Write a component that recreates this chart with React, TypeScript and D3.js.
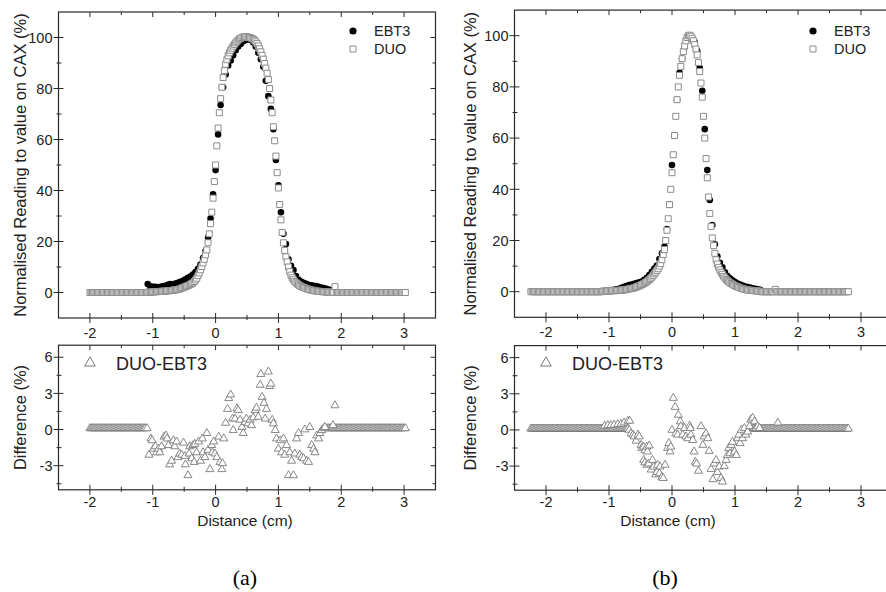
import React from "react";
import * as d3 from "d3";

// ---- data ----
const xMajor = [-2, -1, 0, 1, 2, 3];
const xMinor = [-1.5, -0.5, 0.5, 1.5, 2.5];
const topMajor = [0, 20, 40, 60, 80, 100];
const topMinor = [10, 30, 50, 70, 90];
const botMajor = [-3, 0, 3, 6];
const botMinor = [-4.5, -1.5, 1.5, 4.5];

const duoStep = 0.02;
const ebtStep = 0.04;

// (a) DUO profile, x from -2.00 to 3.02
const duoAStart = -2.0;
const duoAValues = [
  0, 0, 0, 0, 0, 0, 0, 0, 0, 0, 0, 0, 0, 0, 0, 0, 0, 0, 0, 0, 0, 0, 0, 0, 0,
  0, 0, 0, 0, 0, 0, 0, 0, 0, 0, 0, 0, 0, 0, 0, 0, 0, 0, 0, 0,
  0, 0.1, 0.1, 0.2, 0.2, 0.2, 0.3, 0.3, 0.3, 0.4,
  0.4, 0.4, 0.5, 0.5, 0.5, 0.6, 0.6, 0.7, 0.7, 0.8,
  0.8, 0.9, 1.0, 1.0, 1.1, 1.2, 1.3, 1.5, 1.7, 1.9,
  2.1, 2.3, 2.5, 2.7, 2.9, 3.2, 3.5, 3.8, 4.3, 4.9,
  5.6, 6.6, 7.7, 8.9, 10.2, 11.6, 13.0, 14.8, 16.7, 19.5,
  23.0, 27.0, 31.5, 37.0, 43.5, 50.0, 57.5, 64.5, 70.5, 76.0,
  80.5, 84.3, 87.0, 89.5, 91.3, 92.8, 94.0, 95.0, 95.8, 96.6,
  97.3, 97.9, 98.5, 99.0, 99.4, 99.7, 100.0, 100.2, 100.3, 100.3,
  100.2, 100.1, 100.0, 99.8, 99.6, 99.3, 98.9, 98.3, 97.6, 96.7,
  95.6, 94.4, 93.0, 91.5, 89.8, 88.0, 86.0, 83.5, 80.0, 75.5,
  70.5, 65.0, 59.5, 53.5, 47.0, 41.0, 34.5, 28.5, 23.5, 19.5,
  16.5, 14.0, 12.0, 10.0, 8.2, 6.8, 5.8, 5.0, 4.3, 3.8,
  3.4, 3.0, 2.7, 2.4, 2.2, 2.0, 1.8, 1.6, 1.4, 1.3,
  1.1, 1.0, 0.9, 0.8, 0.7, 0.6, 0.5, 0.5, 0.4, 0.4,
  0.3, 0.3, 0.3, 0.2, 0.2, 0.2, 0.1, 0.1, 0.1,
  0.1, 2.3,
  0, 0, 0, 0, 0, 0, 0, 0, 0, 0, 0, 0, 0, 0, 0, 0, 0, 0, 0, 0, 0, 0, 0, 0, 0,
  0, 0, 0, 0, 0, 0, 0, 0, 0, 0, 0, 0, 0, 0, 0, 0, 0, 0, 0, 0, 0, 0, 0, 0, 0,
  0, 0, 0, 0, 0, 0,
];

// (a) EBT3 profile, x from -1.08 to 1.88
const ebtAStart = -1.08;
const ebtAValues = [
  3.3, 2.4, 2.2, 2.2, 2.0, 2.2, 2.4, 2.6, 3.0, 3.3,
  3.2, 3.5, 3.8, 4.2, 4.6, 5.2, 5.8, 6.3, 7.0, 8.0,
  9.3, 11.0, 13.5, 16.3, 21.5, 29.0, 38.5, 48.0, 62.0, 73.5,
  80.5, 85.5, 89.0, 91.0, 93.0, 95.0, 96.5, 97.5, 98.5, 99.0,
  99.3, 99.0, 98.0, 96.5, 94.0, 91.5, 88.5, 83.0, 77.0, 72.0,
  64.0, 52.0, 42.0, 31.5, 23.0, 19.0, 13.0, 10.5, 8.8, 6.5,
  5.0, 4.3, 3.8, 3.4, 3.0, 2.8, 2.6, 2.5, 2.2, 1.9,
  1.7, 1.5, 1.2, 1.0, 0.8,
];

// (b) DUO profile, x from -2.24 to 2.80
const duoBStart = -2.24;
const duoBValues = [
  0, 0, 0, 0, 0, 0, 0, 0, 0, 0, 0, 0, 0, 0, 0, 0, 0, 0, 0, 0, 0, 0, 0, 0, 0,
  0, 0, 0, 0, 0, 0, 0, 0, 0, 0, 0, 0, 0, 0, 0, 0, 0, 0, 0, 0, 0, 0, 0, 0, 0,
  0, 0, 0, 0, 0, 0, 0,
  0.2, 0.2, 0.2, 0.3, 0.3, 0.3, 0.3, 0.4, 0.4, 0.4,
  0.4, 0.5, 0.5, 0.5, 0.6, 0.6, 0.7, 0.7, 0.8, 0.9,
  1.0, 1.1, 1.2, 1.3, 1.4, 1.5, 1.7, 1.9, 2.1, 2.3,
  2.5, 2.8, 3.0, 3.3, 3.6, 3.9, 4.3, 4.7, 5.2, 5.7,
  6.3, 7.0, 7.6, 8.3, 9.0, 10.0, 11.0, 12.5, 14.5, 16.5,
  20.0, 24.0, 28.5, 34.0, 40.0, 46.5, 53.5, 61.0, 68.5, 75.0,
  80.0, 84.5, 88.0, 91.0, 93.8, 96.0, 98.0, 99.3, 100.0, 100.2,
  99.8, 99.0, 98.0, 96.5, 94.8, 92.5, 89.5, 86.0, 81.5, 76.0,
  68.5, 60.0, 52.0, 44.5, 37.0, 30.5, 25.5, 21.0, 18.0, 15.0,
  12.5, 10.8, 9.5, 8.5, 7.6, 6.8, 6.0, 5.4, 4.8, 4.3,
  3.9, 3.5, 3.2, 2.9, 2.6, 2.3, 2.1, 1.9, 1.7, 1.5,
  1.3, 1.2, 1.0, 0.9, 0.8, 0.7, 0.6, 0.6, 0.5, 0.5,
  0.4, 0.4, 0.3, 0.3, 0.2, 0.2,
  0, 0, 0, 0, 0, 0, 0, 0, 0, 0, 0, 0.9, 0, 0, 0, 0, 0, 0, 0, 0, 0, 0, 0, 0, 0,
  0, 0, 0, 0, 0, 0, 0, 0, 0, 0, 0, 0, 0, 0, 0, 0, 0, 0, 0, 0, 0, 0, 0, 0, 0,
  0, 0, 0, 0, 0, 0, 0, 0, 0, 0, 0, 0, 0, 0, 0, 0, 0, 0, 0, 0,
];

// (b) EBT3 profile, x from -1.00 to 1.40
const ebtBStart = -1.0;
const ebtBValues = [
  0.5, 0.6, 0.7, 0.9, 1.1, 1.5, 1.9, 2.2, 2.6, 2.8,
  3.1, 3.4, 3.7, 4.0, 4.6, 5.4, 6.5, 7.8, 9.0, 10.2,
  12.8, 15.0, 17.5, 24.5, 34.0, 49.5, 61.0, 75.0, 85.5, 91.0,
  95.5, 98.5, 100.0, 99.0, 97.5, 94.0, 87.5, 78.5, 63.5, 47.5,
  35.8, 26.0, 18.5, 13.8, 11.3, 9.5, 7.6, 6.1, 5.2, 4.5,
  3.8, 3.2, 2.8, 2.4, 2.0, 1.8, 1.6, 1.3, 1.1, 0.9,
  0.7,
];

// DUO-EBT3 flat parts (outside film overlap)
const diffALeftStart = -2.0;
const diffALeft = [
  0.1, 0.1, 0.1, 0.1, 0.1, 0.1, 0.1, 0.1, 0.1, 0.1, 0.1, 0.1, 0.1, 0.1, 0.1,
  0.1, 0.1, 0.1, 0.1, 0.1, 0.1, 0.1, 0.1, 0.1, 0.1, 0.1, 0.1, 0.1, 0.1, 0.1,
  0.1, 0.1, 0.1, 0.1, 0.1, 0.1, 0.1, 0.1, 0.1, 0.1, 0.1, 0.1, 0.1, 0.1, 0.1,
];
const diffARightStart = 1.78;
const diffARight = [
  0.1, 0.1, 0.1, 0.1, 0.1, 0.1, 0.1, 0.1, 0.1, 0.1, 0.1, 0.1, 0.1, 0.1, 0.1,
  0.1, 0.1, 0.1, 0.1, 0.1, 0.1, 0.1, 0.1, 0.1, 0.1, 0.1, 0.1, 0.1, 0.1, 0.1,
  0.1, 0.1, 0.1, 0.1, 0.1, 0.1, 0.1, 0.1, 0.1, 0.1, 0.1, 0.1, 0.1, 0.1, 0.1,
  0.1, 0.1, 0.1, 0.1, 0.1, 0.1, 0.1, 0.1, 0.1, 0.1, 0.1, 0.1, 0.1, 0.1, 0.1,
  0.1, 0.1, 0.1,
];
const diffAScatter: [number, number][] = [
  [-1.09, 0.1], [-1.06, -2.1], [-1.03, -0.75], [-1.01, -0.9], [-0.99, -1.6], [-0.96, -1.4], [-0.94, -1.9], [-0.91, -1.6], [-0.89, -1.9], [-0.86, -1.4],
  [-0.82, -0.6], [-0.79, -0.5], [-0.77, -0.75], [-0.75, -1.3], [-0.73, -2.9], [-0.7, -2.6], [-0.67, -0.9], [-0.65, -1.4], [-0.62, -1.0], [-0.6, -2.3],
  [-0.57, -2.0], [-0.54, -2.1], [-0.51, -1.1], [-0.49, -2.2], [-0.48, -2.9], [-0.44, -3.8], [-0.42, -2.0], [-0.41, -1.4], [-0.38, -2.4], [-0.36, -1.3],
  [-0.34, -2.7], [-0.33, -1.2], [-0.3, -1.9], [-0.27, -1.0], [-0.24, -2.6], [-0.21, -0.75], [-0.2, -1.9], [-0.17, -2.3], [-0.14, -0.3], [-0.12, -1.7],
  [-0.09, -3.3], [-0.06, -1.3], [-0.05, -1.9], [-0.03, -1.0], [-0.01, -2.0], [0.02, -2.3], [0.05, -0.6], [0.07, -2.7], [0.1, -3.3], [0.11, -2.8],
  [0.13, -0.75], [0.16, 0.55], [0.19, 1.7], [0.21, 2.6], [0.24, 2.9], [0.27, 0.9], [0.28, -0.05], [0.31, 0.9], [0.34, 1.75], [0.36, 1.6],
  [0.39, 0.8], [0.42, 0.2], [0.44, -0.3], [0.47, 0.6], [0.49, 0.9], [0.52, 0.5], [0.55, 0.8], [0.57, 0.35], [0.6, 1.0], [0.63, 1.6],
  [0.65, 1.8], [0.68, 1.05], [0.71, 3.7], [0.72, 4.6], [0.74, 2.7], [0.77, 2.2], [0.79, 0.9], [0.81, 1.7], [0.84, 4.8], [0.86, 3.6],
  [0.88, 3.8], [0.9, 0.8], [0.92, 0.5], [0.95, -0.05], [0.97, -0.75], [1.0, -1.6], [1.03, -0.9], [1.05, -1.9], [1.08, -0.75], [1.1, -2.1],
  [1.13, -1.3], [1.16, -3.8], [1.18, -1.9], [1.21, -2.6], [1.24, -3.8], [1.26, -2.0], [1.29, -0.75], [1.32, -0.3], [1.34, -2.1], [1.37, -2.3],
  [1.4, -2.4], [1.42, 0.0], [1.45, -2.6], [1.48, -2.7], [1.5, 0.2], [1.53, -1.3], [1.56, -1.6], [1.58, -1.9], [1.61, -0.5], [1.64, -0.75],
  [1.66, -0.3], [1.69, -0.05], [1.72, 0.1], [1.74, 0.2], [1.87, 0.35], [1.9, 2.0],
];

const diffBLeftStart = -2.24;
const diffBLeft = [
  0.1, 0.1, 0.1, 0.1, 0.1, 0.1, 0.1, 0.1, 0.1, 0.1, 0.1, 0.1, 0.1, 0.1, 0.1,
  0.1, 0.1, 0.1, 0.1, 0.1, 0.1, 0.1, 0.1, 0.1, 0.1, 0.1, 0.1, 0.1, 0.1, 0.1,
  0.1, 0.1, 0.1, 0.1, 0.1, 0.1, 0.1, 0.1, 0.1, 0.1, 0.1, 0.1, 0.1, 0.1, 0.1,
  0.1, 0.1, 0.1, 0.1, 0.1, 0.1, 0.1, 0.1, 0.1, 0.1, 0.1, 0.1, 0.1, 0.1, 0.1,
  0.1, 0.1, 0.1, 0.1, 0.1, 0.1, 0.1, 0.1, 0.1, 0.1, 0.1, 0.1, 0.1, 0.1, 0.1,
  0.1, 0.1, 0.1,
];
const diffBRightStart = 1.28;
const diffBRight = [
  0.1, 0.1, 0.1, 0.1, 0.1, 0.1, 0.1, 0.1, 0.1, 0.1, 0.1, 0.1, 0.1, 0.1, 0.1,
  0.1, 0.1, 0.1, 0.1, 0.1, 0.1, 0.1, 0.1, 0.1, 0.1, 0.1, 0.1, 0.1, 0.1, 0.1,
  0.1, 0.1, 0.1, 0.1, 0.1, 0.1, 0.1, 0.1, 0.1, 0.1, 0.1, 0.1, 0.1, 0.1, 0.1,
  0.1, 0.1, 0.1, 0.1, 0.1, 0.1, 0.1, 0.1, 0.1, 0.1, 0.1, 0.1, 0.1, 0.1, 0.1,
  0.1, 0.1, 0.1, 0.1, 0.1, 0.1, 0.1, 0.1, 0.1, 0.1, 0.1, 0.1, 0.1, 0.1, 0.1,
  0.1, 0.1,
];
const diffBScatter: [number, number][] = [
  [-1.07, 0.33], [-1.02, 0.39], [-0.97, 0.39], [-0.92, 0.42], [-0.86, 0.47], [-0.81, 0.5], [-0.76, 0.61], [-0.7, 0.75], [-0.67, 0.75],
  [-0.68, 0.0], [-0.65, -0.3], [-0.62, -0.4], [-0.6, -0.55], [-0.57, -0.9], [-0.54, -0.4], [-0.52, -0.55], [-0.49, -1.25], [-0.48, -1.5], [-0.45, -1.4],
  [-0.43, -1.7], [-0.4, -1.4], [-0.39, -1.8], [-0.36, -1.3], [-0.45, -2.5], [-0.43, -2.7], [-0.4, -2.9], [-0.37, -2.8], [-0.33, -3.3], [-0.31, -2.5],
  [-0.29, -3.05], [-0.26, -3.7], [-0.24, -3.5], [-0.23, -2.9], [-0.2, -3.6], [-0.19, -3.05], [-0.16, -3.9], [-0.14, -4.0], [-0.11, -2.9], [-0.07, -1.5],
  [-0.05, -1.1], [-0.03, -1.8], [-0.02, -1.4], [0.0, 0.0], [0.02, 2.65], [0.05, 1.9], [0.06, -0.3], [0.09, -0.4], [0.1, 1.25], [0.13, 0.7],
  [0.14, 0.3], [0.17, -0.4], [0.2, 0.15], [0.22, -0.55], [0.25, -0.7], [0.28, 0.35], [0.29, 0.15], [0.3, -0.4], [0.33, -0.85], [0.35, -1.8],
  [0.37, -2.65], [0.39, -2.8], [0.42, -3.4], [0.46, 0.3], [0.49, -1.25], [0.51, -0.55], [0.54, -0.3], [0.57, -0.7], [0.59, -1.75], [0.62, -3.25],
  [0.65, -4.1], [0.67, -2.8], [0.7, -2.5], [0.72, -3.5], [0.75, -3.05], [0.78, -4.0], [0.8, -4.3], [0.83, -3.0], [0.86, -2.5], [0.88, -2.1],
  [0.9, -1.5], [0.92, -1.95], [0.94, -1.25], [0.96, -1.0], [0.99, -1.8], [1.02, -2.1], [1.04, -0.7], [1.06, -0.4], [1.08, -1.1], [1.1, 0.0],
  [1.12, -0.7], [1.15, 0.15], [1.17, -0.4], [1.2, -0.15], [1.23, 0.3], [1.25, 0.85], [1.28, 1.0], [1.31, 0.7], [1.33, 0.15], [1.36, 0.3],
  [1.39, 0.15], [1.68, 0.6],
];

// ---- drawing ----
const FONT = "'Liberation Sans', Arial, Helvetica, sans-serif";
const AXIS = "#2a2a2a";
const DUO_GRAY = "#8c8c8c";
const TRI_GRAY = "#7a7a7a";

const toPoints = (start: number, step: number, values: number[]) =>
  values.map((v, i) => [start + i * step, v] as [number, number]);

const squarePath = d3.symbol(d3.symbolSquare, 36)() as string;
const trianglePath = d3.symbol(d3.symbolTriangle, 28)() as string;
const legendTriangle = d3.symbol(d3.symbolTriangle, 48)() as string;

const panels = [
  {
    xRange: [58.5, 435.5],
    topRange: [318, 12],
    botRange: [489.8, 345.2],
    titleX: 20,
    caption: "(a)",
    captionX: 245,
    distanceX: 245,
    legendX: 353,
    diffLegendX: 90,
    duo: toPoints(duoAStart, duoStep, duoAValues),
    ebt: toPoints(ebtAStart, ebtStep, ebtAValues),
    diff: [
      ...toPoints(diffALeftStart, duoStep, diffALeft),
      ...toPoints(diffARightStart, duoStep, diffARight),
      ...diffAScatter,
    ],
  },
  {
    xRange: [514.5, 892.5],
    topRange: [317.3, 10.1],
    botRange: [490.2, 345.6],
    titleX: 470,
    caption: "(b)",
    captionX: 665,
    distanceX: 668,
    legendX: 813,
    diffLegendX: 546,
    duo: toPoints(duoBStart, duoStep, duoBValues),
    ebt: toPoints(ebtBStart, ebtStep, ebtBValues),
    diff: [
      ...toPoints(diffBLeftStart, duoStep, diffBLeft),
      ...toPoints(diffBRightStart, duoStep, diffBRight),
      ...diffBScatter,
    ],
  },
];

function Frame({ x, y, yMajor, yMinor, labelGap }: any) {
  const [x0, x1] = x.range();
  const [yb, yt] = y.range();
  const ln = (k: string, a: number, b: number, c: number, d: number) => (
    <line key={k} x1={a} y1={b} x2={c} y2={d} stroke={AXIS} strokeWidth={1} />
  );
  const out: any[] = [];
  xMajor.forEach((t) => {
    const px = x(t);
    out.push(ln("xb" + t, px, yb - 5, px, yb + 5));
    out.push(ln("xt" + t, px, yt, px, yt + 5));
  });
  xMinor.forEach((t) => {
    const px = x(t);
    out.push(ln("xbm" + t, px, yb - 3, px, yb + 2));
    out.push(ln("xtm" + t, px, yt, px, yt + 3));
  });
  yMajor.forEach((t: number) => {
    const py = y(t);
    out.push(ln("yl" + t, x0 - 5, py, x0 + 5, py));
    out.push(ln("yr" + t, x1 - 5, py, x1, py));
  });
  yMinor.forEach((t: number) => {
    const py = y(t);
    out.push(ln("ylm" + t, x0 - 2, py, x0 + 3, py));
    out.push(ln("yrm" + t, x1 - 3, py, x1, py));
  });
  return (
    <g>
      <rect x={x0} y={yt} width={x1 - x0} height={yb - yt} fill="none" stroke={AXIS} strokeWidth={1.2} />
      {out}
      {xMajor.map((t) => (
        <text key={"xl" + t} x={x(t)} y={yb + labelGap} textAnchor="middle" fontSize={14.5} fill="#222" fontFamily={FONT}>
          {t}
        </text>
      ))}
      {yMajor.map((t: number) => (
        <text key={"yll" + t} x={x0 - 6} y={y(t)} dy="0.36em" textAnchor="end" fontSize={14.5} fill="#222" fontFamily={FONT}>
          {t}
        </text>
      ))}
    </g>
  );
}

function Panel({ p }: any) {
  const x = d3.scaleLinear().domain([-2.5, 3.5]).range(p.xRange);
  const yTop = d3.scaleLinear().domain([-10, 110]).range(p.topRange);
  const yBot = d3.scaleLinear().domain([-5, 7]).range(p.botRange);
  const topMid = (p.topRange[0] + p.topRange[1]) / 2;
  const botMid = (p.botRange[0] + p.botRange[1]) / 2;
  return (
    <g>
      <Frame x={x} y={yTop} yMajor={topMajor} yMinor={topMinor} labelGap={20} />
      <Frame x={x} y={yBot} yMajor={botMajor} yMinor={botMinor} labelGap={17} />

      {p.ebt.map((d: [number, number], i: number) => (
        <circle key={"e" + i} cx={x(d[0])} cy={yTop(d[1])} r={3.3} fill="#000" />
      ))}
      {p.duo.map((d: [number, number], i: number) => (
        <path key={"d" + i} d={squarePath} transform={`translate(${x(d[0])},${yTop(d[1])})`}
          fill="#fff" stroke={DUO_GRAY} strokeWidth={1} />
      ))}
      {p.diff.map((d: [number, number], i: number) => (
        <path key={"t" + i} d={trianglePath} transform={`translate(${x(d[0])},${yBot(d[1])})`}
          fill="#fff" stroke={TRI_GRAY} strokeWidth={0.9} />
      ))}

      {/* legends */}
      <circle cx={p.legendX} cy={31} r={3.6} fill="#000" />
      <text x={p.legendX + 21} y={36} fontSize={14.5} fontFamily={FONT} fill="#222">EBT3</text>
      <path d={squarePath} transform={`translate(${p.legendX},49)`} fill="#fff" stroke={DUO_GRAY} />
      <text x={p.legendX + 21} y={54} fontSize={14.5} fontFamily={FONT} fill="#222">DUO</text>

      <path d={legendTriangle} transform={`translate(${p.diffLegendX},363)`} fill="#fff" stroke={TRI_GRAY} />
      <text x={p.diffLegendX + 26} y={369.5} fontSize={18} fontFamily={FONT} fill="#222">DUO-EBT3</text>

      {/* titles */}
      <text transform={`translate(${p.titleX},${topMid}) rotate(-90)`} textAnchor="middle" dy="0.36em"
        fontSize={16.5} fontFamily={FONT} fill="#222">
        Normalised Reading to value on CAX (%)
      </text>
      <text transform={`translate(${p.titleX},${botMid}) rotate(-90)`} textAnchor="middle" dy="0.36em"
        fontSize={16.5} fontFamily={FONT} fill="#222">
        Difference (%)
      </text>
      <text x={p.distanceX} y={526} textAnchor="middle" fontSize={15.5} fontFamily={FONT} fill="#222">
        Distance (cm)
      </text>
      <text x={p.captionX} y={585} textAnchor="middle" fontSize={22} fontFamily="'Liberation Serif', 'Times New Roman', serif" fill="#000">
        {p.caption}
      </text>
    </g>
  );
}

export default function App() {
  return (
    <svg width={886} height={592} style={{ position: "absolute", left: 0, top: 0, background: "#fff" }}>
      <rect width={886} height={592} fill="#fff" />
      {panels.map((p, i) => (
        <Panel key={i} p={p} />
      ))}
    </svg>
  );
}
